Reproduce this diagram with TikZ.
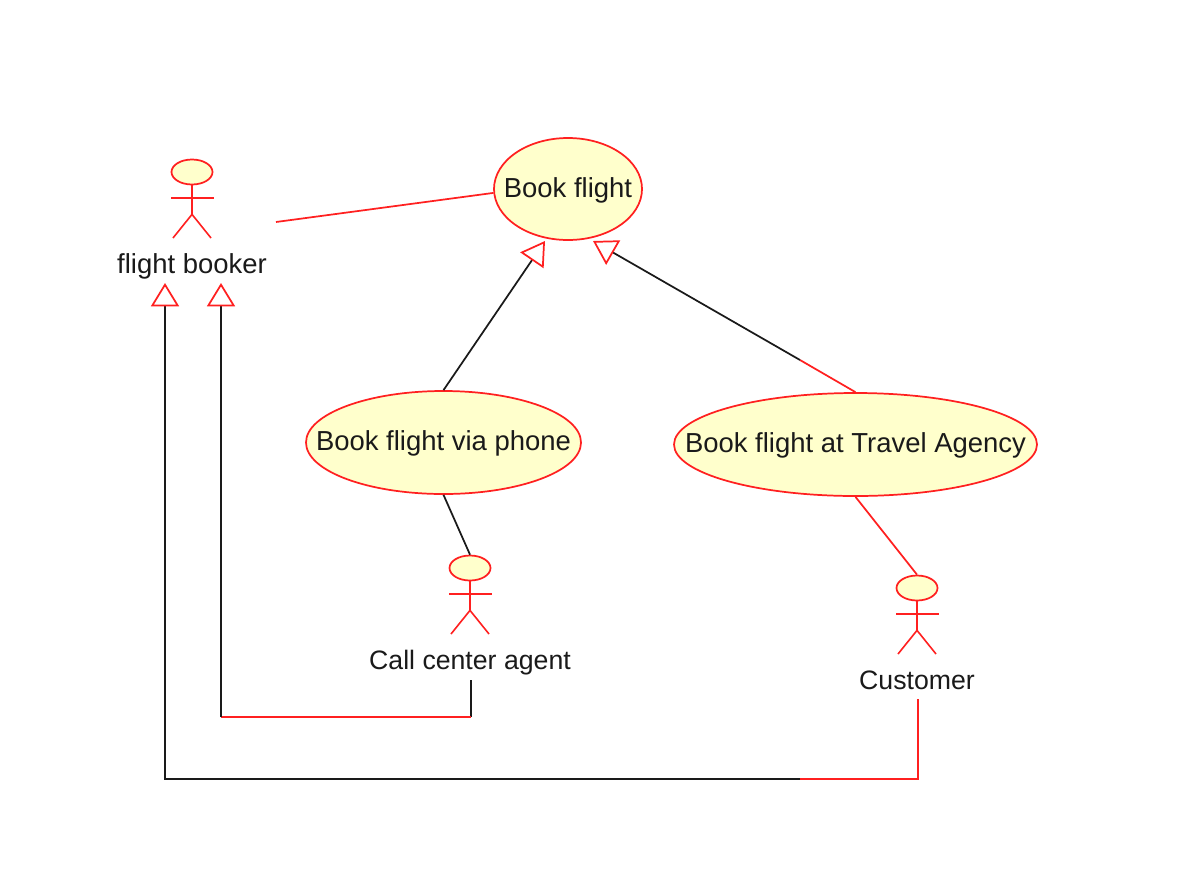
\documentclass[tikz,border=0pt]{standalone}
\usepackage{fontspec}
\setmainfont{Liberation Sans}
\usetikzlibrary{shapes.geometric,arrows.meta}
\definecolor{umlfill}{HTML}{FFFFCC}
\definecolor{umlred}{HTML}{FF2020}
\definecolor{umlblack}{HTML}{1A1A1A}
\newcommand{\uctext}[1]{\makebox[0pt]{\smash{\raisebox{-6pt}{#1}}}}
\tikzset{
  usecase/.style={ellipse,draw=umlred,fill=umlfill,line width=1.3pt,inner sep=0pt,font=\fontsize{20.6}{24}\selectfont,text=umlblack},
  acthead/.style={ellipse,draw=umlred,fill=umlfill,line width=1.3pt,inner sep=0pt,minimum width=30.75pt,minimum height=18.75pt},
  actbody/.style={draw=umlred,line width=1.2pt},
  actlabel/.style={inner sep=0pt,anchor=base,font=\fontsize{20}{24}\selectfont,text=umlblack},
  redline/.style={draw=umlred,line width=1.3pt},
  blackline/.style={draw=umlblack,line width=1.3pt},
  gentip/.style={-{Triangle[open,fill=white,length=17.5pt,width=21pt,color=umlred,line width=1.3pt]}}
}
\newcommand{\umlactor}[4]{% name, x, y of head centre, label
  \node[acthead] (#1) at (#2,#3) {};
  \draw[actbody] (#1.south) -- ++(0,29) coordinate (#1hip);
  \draw[actbody] (#2-21,#3+26) coordinate (#1armL) -- (#2+22,#3+26) coordinate (#1armR);
  \draw[actbody] (#2-19,#3+66) coordinate (#1legL) -- (#1hip) -- (#2+19,#3+66) coordinate (#1legR);
  \node[actlabel] (#1label) at (#2,#3+101) {#4};
}
\begin{document}
\begin{tikzpicture}[x=0.75pt,y=-0.75pt]
\useasboundingbox[fill=white] (0,0) rectangle (1191,893);

% use cases
\node[usecase,minimum width=111pt,minimum height=76.5pt] (book) at (568,189) {\uctext{Book flight}};
\node[usecase,minimum width=206.25pt,minimum height=77.25pt] (phone) at (443.5,442.5) {\uctext{Book flight via phone}};
\node[usecase,minimum width=272.25pt,minimum height=77.25pt] (agency) at (855.5,444.5) {\uctext{Book flight at Travel Agency}};

% actors
\umlactor{booker}{192}{172}{\fontsize{20.6}{24}\selectfont flight booker}
\umlactor{agent}{470}{568}{Call center agent}
\umlactor{customer}{917}{588}{Customer}

% free ends and bends
\coordinate (bookerEnd) at (276,222);
\coordinate (agentFoot) at (471,680);
\coordinate (agentBend) at (471,717);
\coordinate (agentBendL) at (221,717);
\coordinate (agentTip) at (221,283);
\coordinate (custFoot) at (918,699);
\coordinate (custBend) at (918,779);
\coordinate (custSplit) at (800,779);
\coordinate (custBendL) at (165,779);
\coordinate (custTip) at (165,283);
\coordinate (agencySplit) at (800,360);
\coordinate (phoneTip) at (545,241);
\coordinate (agencyTip) at (593,241);

% associations
\draw[redline] (bookerEnd) -- (book.183);
\draw[blackline] (phone.south) -- (agent.north);
\draw[redline] (agency.south) -- (customer.north);

% generalizations
\draw[blackline,gentip] (phone.north) -- (phoneTip);
\draw[redline] (agency.north) -- (agencySplit);
\draw[blackline,gentip] (agencySplit) -- (agencyTip);

\draw[blackline] (agentFoot) -- (agentBend);
\draw[redline] (agentBend) -- (agentBendL);
\draw[blackline,gentip] (agentBendL) -- (agentTip);

\draw[redline,line join=miter] (custFoot) -- (custBend) -- (custSplit);
\draw[blackline,gentip] (custSplit) -- (custBendL) -- (custTip);
\end{tikzpicture}
\end{document}
